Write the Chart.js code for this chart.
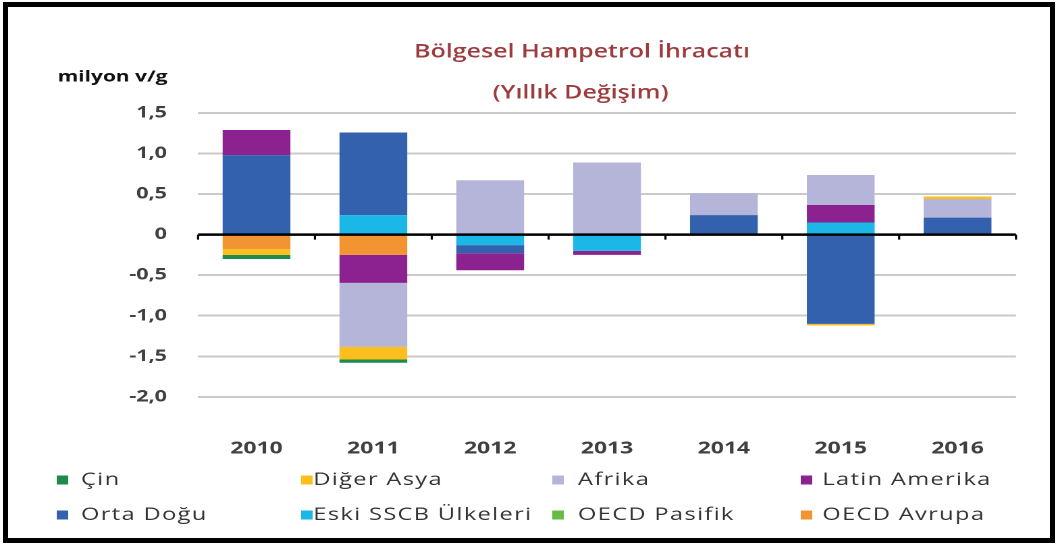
<!DOCTYPE html>
<html><head><meta charset="utf-8">
<script src="https://cdn.jsdelivr.net/npm/chart.js@4.4.1/dist/chart.umd.min.js"></script>
<style>
html,body{margin:0;padding:0;background:#fff;overflow:hidden;width:1060px;height:549px;}
#wrap{position:absolute;left:0;top:0;width:785px;height:549px;transform:scaleX(1.35032);transform-origin:0 0;}
#frame{position:absolute;left:3px;top:2px;width:1052px;height:541px;box-sizing:border-box;border:5px solid #000;pointer-events:none;}
</style></head><body>
<div id="wrap"><canvas id="c"></canvas></div>
<div id="frame"></div>
<script>
// ---- data ----
const years = ['2010', '2011', '2012', '2013', '2014', '2015', '2016'];
const cin          = [-0.05, -0.04, 0, 0, 0, 0, 0];
const digerAsya    = [-0.07, -0.155, 0, 0, 0, -0.02, 0.03];
const afrika       = [0, -0.79, 0.67, 0.89, 0.27, 0.37, 0.23];
const latinAmerika = [0.31, -0.345, -0.21, -0.05, 0, 0.215, 0];
const ortaDogu     = [0.98, 1.02, -0.10, 0, 0.24, -1.10, 0.21];
const eskiSSCB     = [0, 0.24, -0.13, -0.20, 0, 0.15, 0];
const oecdPasifik  = [0, 0, 0, 0, 0, 0, 0];
const oecdAvrupa   = [-0.18, -0.25, 0, 0, 0, 0, 0];
const yTicks = [1.5, 1.0, 0.5, 0, -0.5, -1.0, -1.5, -2.0];

const titleText = 'Bölgesel Hampetrol İhracatı';
const subtitleText = '(Yıllık Değişim)';
const unitText = 'milyon v/g';

// legend order (as displayed)
const legendSeries = [
  {label: 'Çin', data: cin, color: '#1f8a4c'},
  {label: 'Diğer Asya', data: digerAsya, color: '#fcbf1e'},
  {label: 'Afrika', data: afrika, color: '#b5b5da'},
  {label: 'Latin Amerika', data: latinAmerika, color: '#8c2290'},
  {label: 'Orta Doğu', data: ortaDogu, color: '#3461ae'},
  {label: 'Eski SSCB Ülkeleri', data: eskiSSCB, color: '#1bb7e6'},
  {label: 'OECD Pasifik', data: oecdPasifik, color: '#67bb44'},
  {label: 'OECD Avrupa', data: oecdAvrupa, color: '#f39433'}
];

// stacking order: last legend entry is closest to zero
const datasets = legendSeries.slice().reverse().map(s => ({
  label: s.label, data: s.data, backgroundColor: s.color, borderWidth: 0,
  barPercentage: 0.58, categoryPercentage: 1.0
}));

const decor = {
  id: 'decor',
  afterDatasetsDraw(chart) {
    const {ctx, chartArea, scales} = chart;
    const y0 = scales.y.getPixelForValue(0);
    ctx.save();
    ctx.strokeStyle = '#000';
    ctx.lineWidth = 2.5;
    ctx.beginPath();
    ctx.moveTo(chartArea.left, y0);
    ctx.lineTo(chartArea.right, y0);
    ctx.stroke();
    const n = years.length;
    const step = (chartArea.right - chartArea.left) / n;
    ctx.lineWidth = 1.6;
    for (let i = 0; i <= n; i++) {
      const x = scales.x.getPixelForValue(0) - step / 2 + i * step;
      ctx.beginPath();
      ctx.moveTo(x, y0);
      ctx.lineTo(x, y0 + 5);
      ctx.stroke();
    }
    ctx.restore();
  },
  afterDraw(chart) {
    const {ctx} = chart;
    ctx.save();
    ctx.textBaseline = 'middle';
    ctx.textAlign = 'center';
    ctx.fillStyle = '#9c3c3e';
    ctx.font = '600 18.5px "Open Sans"';
    ctx.fillText(titleText, 431, 52);
    ctx.fillText(subtitleText, 430, 93);
    ctx.fillStyle = '#111';
    ctx.textAlign = 'right';
    ctx.font = 'bold 15.5px "Open Sans"';
    ctx.fillText(unitText, 124, 77);
    // legend grid (4 columns x 2 rows)
    const markX = [42, 223, 409, 593];
    const textX = [60, 232, 428, 609];
    const rowY = [480, 515];
    ctx.textAlign = 'left';
    ctx.font = '17.5px "Open Sans"';
    try { ctx.letterSpacing = '1px'; } catch (e) {}
    legendSeries.forEach((s, i) => {
      const col = i % 4, row = Math.floor(i / 4);
      ctx.fillStyle = s.color;
      ctx.fillRect(markX[col], rowY[row] - 4.5, 8.5, 9);
      ctx.fillStyle = '#333';
      ctx.fillText(s.label, textX[col], rowY[row]);
    });
    ctx.restore();
  }
};

new Chart(document.getElementById('c'), {
  type: 'bar',
  data: {labels: years, datasets},
  options: {
    responsive: true, maintainAspectRatio: false, animation: false,
    devicePixelRatio: 2,
    layout: {padding: {left: 0, right: 32.6, top: 113, bottom: 48.8}},
    plugins: {legend: {display: false}, tooltip: {enabled: false}, title: {display: false}},
    scales: {
      x: {
        stacked: true,
        grid: {display: false, drawTicks: false},
        border: {display: false},
        ticks: {padding: 41.5, color: '#404040', font: {family: 'Open Sans', size: 17, weight: 'bold'}}
      },
      y: {
        stacked: true, min: -2.0, max: 1.5,
        afterFit(scale) { scale.width = 146.7; },
        afterBuildTicks(scale) { scale.ticks = yTicks.map(v => ({value: v})); },
        grid: {drawTicks: false, lineWidth: 2,
               color: c => (c.tick && c.tick.value === 0) ? 'rgba(0,0,0,0)' : '#cacaca'},
        border: {display: false},
        ticks: {padding: 23, color: '#404040', font: {family: 'Open Sans', size: 16, weight: 'bold'},
                callback: v => v === 0 ? '0' : v.toFixed(1).replace('.', ',')}
      }
    }
  },
  plugins: [decor]
});
</script>
</body></html>
